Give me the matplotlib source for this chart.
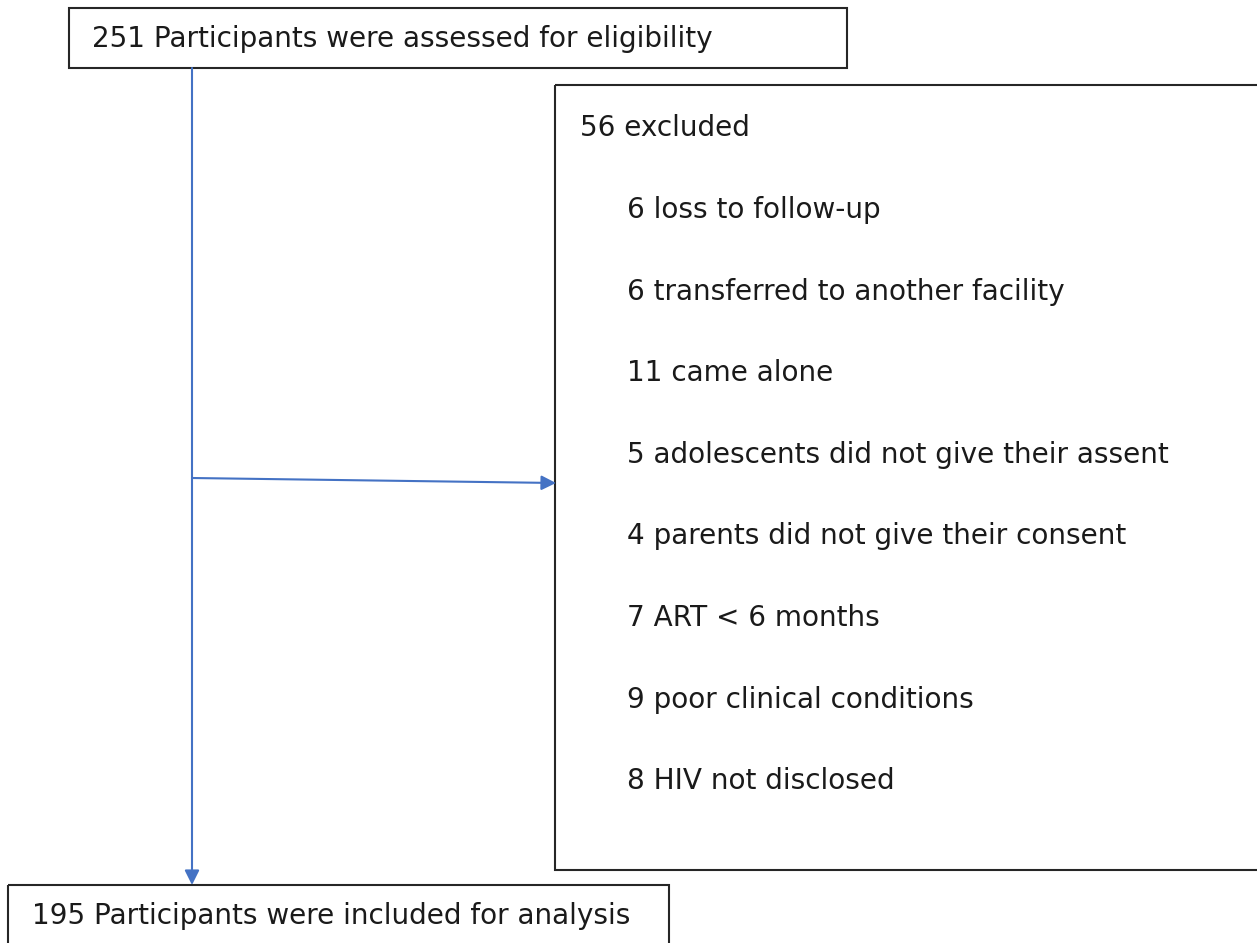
import matplotlib.pyplot as plt
from matplotlib.patches import Rectangle

# flow numbers
assessed = 251
included = 195
excluded_total = 56
excluded_n = [6, 6, 11, 5, 4, 7, 9, 8]
excluded_reason = ["loss to follow-up",
                   "transferred to another facility",
                   "came alone",
                   "adolescents did not give their assent",
                   "parents did not give their consent",
                   "ART < 6 months",
                   "poor clinical conditions",
                   "HIV not disclosed"]

plt.rcParams['font.family'] = ['DejaVu Sans']

fig = plt.figure(figsize=(12.57, 9.43), dpi=100)
ax = fig.add_axes([0, 0, 1, 1])
ax.set_xlim(0, 1257)
ax.set_ylim(943, 0)
ax.axis('off')

fs = 20.1
edge = '#262626'
blue = '#4472C4'
txt = '#1a1a1a'

# boxes
ax.add_patch(Rectangle((69, 8), 778, 60, fill=False, ec=edge, lw=1.5))
ax.add_patch(Rectangle((555, 85), 760, 785, fill=False, ec=edge, lw=1.5))
ax.add_patch(Rectangle((8, 885), 661, 80, fill=False, ec=edge, lw=1.5))

ax.text(92, 39, f"{assessed} Participants were assessed for eligibility",
        fontsize=fs, va='center', ha='left', color=txt)
ax.text(32, 916, f"{included} Participants were included for analysis",
        fontsize=fs, va='center', ha='left', color=txt)
ax.text(580, 128, f"{excluded_total} excluded",
        fontsize=fs, va='center', ha='left', color=txt)

y0, step = 210, 81.6
for i, (n, r) in enumerate(zip(excluded_n, excluded_reason)):
    ax.text(627, y0 + i * step, f"{n} {r}",
            fontsize=fs, va='center', ha='left', color=txt)

# arrows
ax.annotate("", xy=(192, 885), xytext=(192, 68),
            arrowprops=dict(arrowstyle='-|>', color=blue, lw=1.5,
                            mutation_scale=22, shrinkA=0, shrinkB=0))
ax.annotate("", xy=(556, 483), xytext=(192, 478),
            arrowprops=dict(arrowstyle='-|>', color=blue, lw=1.5,
                            mutation_scale=22, shrinkA=0, shrinkB=0))

fig.savefig("out.png", dpi=100, facecolor='white')
